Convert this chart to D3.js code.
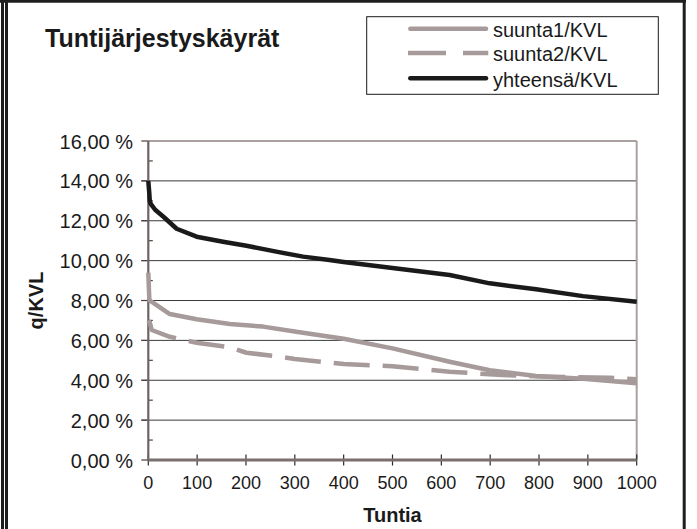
<!DOCTYPE html>
<html>
<head>
<meta charset="utf-8">
<script src="https://cdn.jsdelivr.net/npm/d3@7"></script>
<style>
  body { margin: 0; background: #fff; }
  text { font-family: "Liberation Sans", Arial, sans-serif; fill: #1a1a1a; }
</style>
</head>
<body>
<div id="chart"></div>
<script>
const w = 697;
const h = 529;

// values (hours, % of KVL)
const suunta1Hours = [0, 2, 3, 17, 44, 99, 167, 235, 303, 372, 400, 500, 617, 699, 794, 890, 1000];
const suunta1Values = [9.4, 8.1, 8.0, 7.77, 7.32, 7.06, 6.82, 6.69, 6.43, 6.18, 6.08, 5.6, 4.93, 4.5, 4.21, 4.08, 3.85];
const suunta2Hours = [0, 3, 7, 44, 99, 167, 201, 269, 300, 400, 500, 617, 725, 821, 944, 1000];
const suunta2Values = [7.0, 6.9, 6.52, 6.18, 5.88, 5.65, 5.38, 5.18, 5.07, 4.81, 4.7, 4.43, 4.26, 4.18, 4.12, 4.05];
const totalHours = [0, 2, 3, 5, 14, 31, 58, 99, 153, 201, 262, 317, 371, 400, 500, 617, 699, 794, 890, 1000];
const totalValues = [14.0, 13.4, 13.0, 12.85, 12.55, 12.2, 11.6, 11.2, 10.95, 10.75, 10.45, 10.2, 10.03, 9.93, 9.63, 9.28, 8.86, 8.56, 8.22, 7.94];

const seriesNames = ["suunta1/KVL", "suunta2/KVL", "yhteensä/KVL"];
const xTicks = [0, 100, 200, 300, 400, 500, 600, 700, 800, 900, 1000];
const yTicks = [0, 2, 4, 6, 8, 10, 12, 14, 16];
const yMinor = [1, 3, 5, 7, 9, 11, 13, 15];

const grey = "#a69a9a";
const series = [
  { name: seriesNames[0], hours: suunta1Hours, values: suunta1Values, color: grey, dash: null },
  { name: seriesNames[1], hours: suunta2Hours, values: suunta2Values, color: grey, dash: "36,13" },
  { name: seriesNames[2], hours: totalHours, values: totalValues, color: "#1a1a1a", dash: null }
];

const svg = d3.select("#chart").append("svg").attr("width", w).attr("height", h);

// outer frame
svg.append("line").attr("x1", 0).attr("x2", 686).attr("y1", 1.3).attr("y2", 1.3)
  .attr("stroke", "#1e1e1e").attr("stroke-width", 2.7);
[2.5, 6.5].forEach((x) => {
  svg.append("line").attr("x1", x).attr("x2", x).attr("y1", 0).attr("y2", h)
    .attr("stroke", "#1e1e1e").attr("stroke-width", 3);
});
svg.append("line").attr("x1", 684.2).attr("x2", 684.2).attr("y1", 0).attr("y2", h)
  .attr("stroke", "#1e1e1e").attr("stroke-width", 3);

svg.append("text").attr("x", 45).attr("y", 46.5)
  .attr("font-size", "25px").attr("font-weight", "bold")
  .text("Tuntijärjestyskäyrät");

const plot = { left: 148.3, right: 636.7, top: 141, bottom: 460 };
const x = d3.scaleLinear().domain([0, 1000]).range([plot.left, plot.right]);
const y = d3.scaleLinear().domain([0, 16]).range([plot.bottom, plot.top]);

// gridlines
svg.append("g").selectAll("line").data(yTicks.filter((d) => d > 0 && d < 16)).join("line")
  .attr("x1", plot.left - 7).attr("x2", plot.right)
  .attr("y1", (d) => y(d)).attr("y2", (d) => y(d))
  .attr("stroke", "#3a3a3a").attr("stroke-width", 1);

// plot border (top/right)
svg.append("line").attr("x1", plot.left).attr("x2", plot.right).attr("y1", plot.top).attr("y2", plot.top)
  .attr("stroke", "#aaa0a0").attr("stroke-width", 2);
svg.append("line").attr("x1", plot.right).attr("x2", plot.right).attr("y1", plot.top).attr("y2", plot.bottom)
  .attr("stroke", "#aaa0a0").attr("stroke-width", 2);

// y axis
const yAxis = svg.append("g");
yAxis.selectAll("line.major").data(yTicks).join("line").attr("class", "major")
  .attr("x1", plot.left - 7).attr("x2", plot.left)
  .attr("y1", (d) => y(d)).attr("y2", (d) => y(d))
  .attr("stroke", "#4a4040").attr("stroke-width", 1.2);
yAxis.selectAll("line.minor").data(yMinor).join("line").attr("class", "minor")
  .attr("x1", plot.left).attr("x2", plot.left + 4.5)
  .attr("y1", (d) => y(d)).attr("y2", (d) => y(d))
  .attr("stroke", "#4a4040").attr("stroke-width", 1.2);
yAxis.selectAll("text").data(yTicks).join("text")
  .attr("x", 133).attr("y", (d) => y(d) + 7.5)
  .attr("text-anchor", "end").attr("font-size", "20px")
  .text((d) => d3.format(".2f")(d).replace(".", ",") + " %");

// x axis
const xAxis = svg.append("g");
xAxis.selectAll("line").data(xTicks).join("line")
  .attr("x1", (d) => x(d)).attr("x2", (d) => x(d))
  .attr("y1", plot.bottom - 5.5).attr("y2", plot.bottom + 5.5)
  .attr("stroke", "#2a2a2a").attr("stroke-width", 1.2);
xAxis.selectAll("text").data(xTicks).join("text")
  .attr("x", (d) => x(d)).attr("y", 489)
  .attr("text-anchor", "middle").attr("font-size", "18px")
  .text((d) => d);

svg.append("line").attr("x1", plot.left).attr("x2", plot.left).attr("y1", plot.top).attr("y2", plot.bottom)
  .attr("stroke", "#6f6262").attr("stroke-width", 2.2);
svg.append("line").attr("x1", plot.left).attr("x2", plot.right).attr("y1", plot.bottom).attr("y2", plot.bottom)
  .attr("stroke", "#7a6e6e").attr("stroke-width", 2.8);

// series
const line = d3.line().x((d) => x(d[0])).y((d) => y(d[1]));
svg.append("g").selectAll("path").data(series).join("path")
  .attr("d", (s) => line(s.hours.map((hr, i) => [hr, s.values[i]])))
  .attr("fill", "none")
  .attr("stroke", (s) => s.color)
  .attr("stroke-width", 4.5)
  .attr("stroke-linejoin", "round")
  .attr("stroke-dasharray", (s) => s.dash);

// axis titles
svg.append("text").attr("x", x(500)).attr("y", 522)
  .attr("text-anchor", "middle").attr("font-size", "20px").attr("font-weight", "bold")
  .text("Tuntia");
svg.append("text").attr("transform", `translate(42.5, ${(plot.top + plot.bottom) / 2}) rotate(-90)`)
  .attr("text-anchor", "middle").attr("font-size", "20px").attr("font-weight", "bold")
  .text("q/KVL");

// legend
const legend = svg.append("g");
legend.append("rect").attr("x", 366.7).attr("y", 16.7).attr("width", 291.6).attr("height", 77.6)
  .attr("fill", "#fff").attr("stroke", "#1a1a1a").attr("stroke-width", 1);
const rowY = [28.7, 53, 78.3];
legend.selectAll("line").data(series).join("line")
  .attr("x1", (d) => (d.dash ? 408 : 410.3)).attr("x2", (d) => (d.dash ? 488.3 : 486))
  .attr("y1", (d, i) => rowY[i]).attr("y2", (d, i) => rowY[i])
  .attr("stroke", (d) => d.color).attr("stroke-width", 4.5)
  .attr("stroke-linecap", (d) => (d.dash ? "butt" : "round"))
  .attr("stroke-dasharray", (d) => (d.dash ? "38,17" : null));
legend.selectAll("text").data(series).join("text")
  .attr("x", 493).attr("y", (d, i) => rowY[i] + 8.3)
  .attr("font-size", "20px")
  .text((d) => d.name);
</script>
</body>
</html>
